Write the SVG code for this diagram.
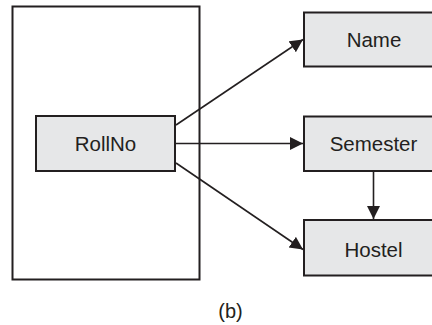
<svg xmlns="http://www.w3.org/2000/svg" width="432" height="325" viewBox="0 0 432 325">
<style>
.box{fill:#e6e7e8;stroke:#231f20;stroke-width:2}
.lbl{font-family:"Liberation Sans",Arial,sans-serif;font-size:20.5px;fill:#231f20;text-anchor:middle}
.con{stroke:#231f20;stroke-width:1.6;fill:none;marker-end:url(#ah)}
</style>
<defs>
<marker id="ah" markerUnits="userSpaceOnUse" markerWidth="14" markerHeight="14" refX="13" refY="6.5" orient="auto">
<path d="M0,0 L13,6.5 L0,13 z" fill="#231f20"/>
</marker>
</defs>
<rect id="outer" x="12.5" y="6.5" width="187" height="273" fill="#fff" stroke="#231f20" stroke-width="2"/>
<g id="rollno"><rect class="box" x="36" y="116" width="139" height="55"/><text class="lbl" x="105.5" y="151">RollNo</text></g>
<g id="name"><rect class="box" x="304" y="12.5" width="139" height="54"/><text class="lbl" x="374" y="47">Name</text></g>
<g id="semester"><rect class="box" x="304" y="116.5" width="139" height="54.5"/><text class="lbl" x="373.5" y="151">Semester</text></g>
<g id="hostel"><rect class="box" x="304" y="220" width="139" height="55.5"/><text class="lbl" x="373.5" y="257">Hostel</text></g>
<g id="connectors">
<line class="con" x1="176" y1="125" x2="303" y2="39.5"/>
<line class="con" x1="176" y1="143.5" x2="303" y2="143.5"/>
<line class="con" x1="176" y1="163" x2="303" y2="249.5"/>
<line class="con" x1="373.5" y1="171" x2="373.5" y2="219"/>
</g>
<text class="lbl" x="230.5" y="318" style="font-size:20px">(b)</text>
</svg>
